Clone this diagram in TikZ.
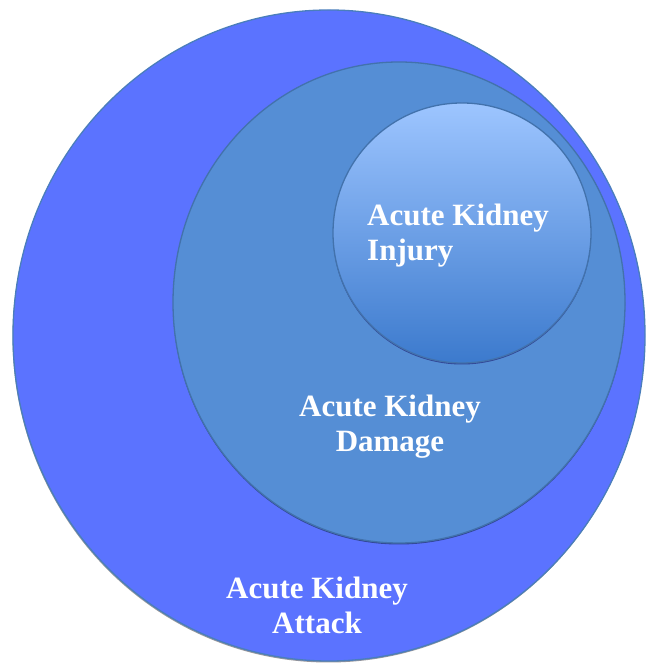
\documentclass[tikz,border=0pt]{standalone}
\usepackage{fontspec}
\setmainfont{Liberation Serif}
\usetikzlibrary{shapes.geometric}
\definecolor{outerfill}{RGB}{91,115,255}
\definecolor{outerline}{RGB}{74,126,187}
\definecolor{midfill}{RGB}{85,142,213}
\definecolor{midline}{RGB}{66,114,172}
\definecolor{innertop}{RGB}{157,197,255}
\definecolor{innerbot}{RGB}{60,122,205}
\definecolor{darkshadow}{RGB}{50,70,150}
\definecolor{grayshadow}{RGB}{150,150,155}
\tikzset{
  ring/.style={ellipse, inner sep=0pt, line width=1.3pt},
  shadowring/.style={ellipse, inner sep=0pt, fill=#1, draw=none},
  label/.style={text=white, font=\fontsize{31}{35}\selectfont\bfseries, inner sep=0pt},
}
\begin{document}
\begin{tikzpicture}[x=1pt,y=1pt]
\useasboundingbox (0,0) rectangle (649,663);
% outer
\node[shadowring=grayshadow, minimum width=632pt, minimum height=651pt] (outershadow) at (328.5,326) {};
\node[ring, fill=outerfill, draw=outerline, minimum width=632pt, minimum height=651pt] (outer) at (329,327.5) {};
% middle
\node[shadowring=darkshadow, minimum width=452pt, minimum height=481pt] (midshadow) at (399,359) {};
\node[ring, fill=midfill, draw=midline, minimum width=452pt, minimum height=481pt] (middle) at (399,360.5) {};
% inner
\node[shadowring=darkshadow, minimum width=258pt, minimum height=260pt] (innershadow) at (462,428.5) {};
\node[ring, top color=innertop, bottom color=innerbot, draw=midline, minimum width=258pt, minimum height=260pt] (inner) at (462,430) {};
% labels (base anchor = baseline of the last line)
\node[label, align=left, anchor=base west] (injury) at (367,402) {Acute Kidney\\Injury};
\node[label, align=center, anchor=base] (damage) at (390,211) {Acute Kidney\\Damage};
\node[label, align=center, anchor=base] (attack) at (317,29) {Acute Kidney\\Attack};
\end{tikzpicture}
\end{document}
